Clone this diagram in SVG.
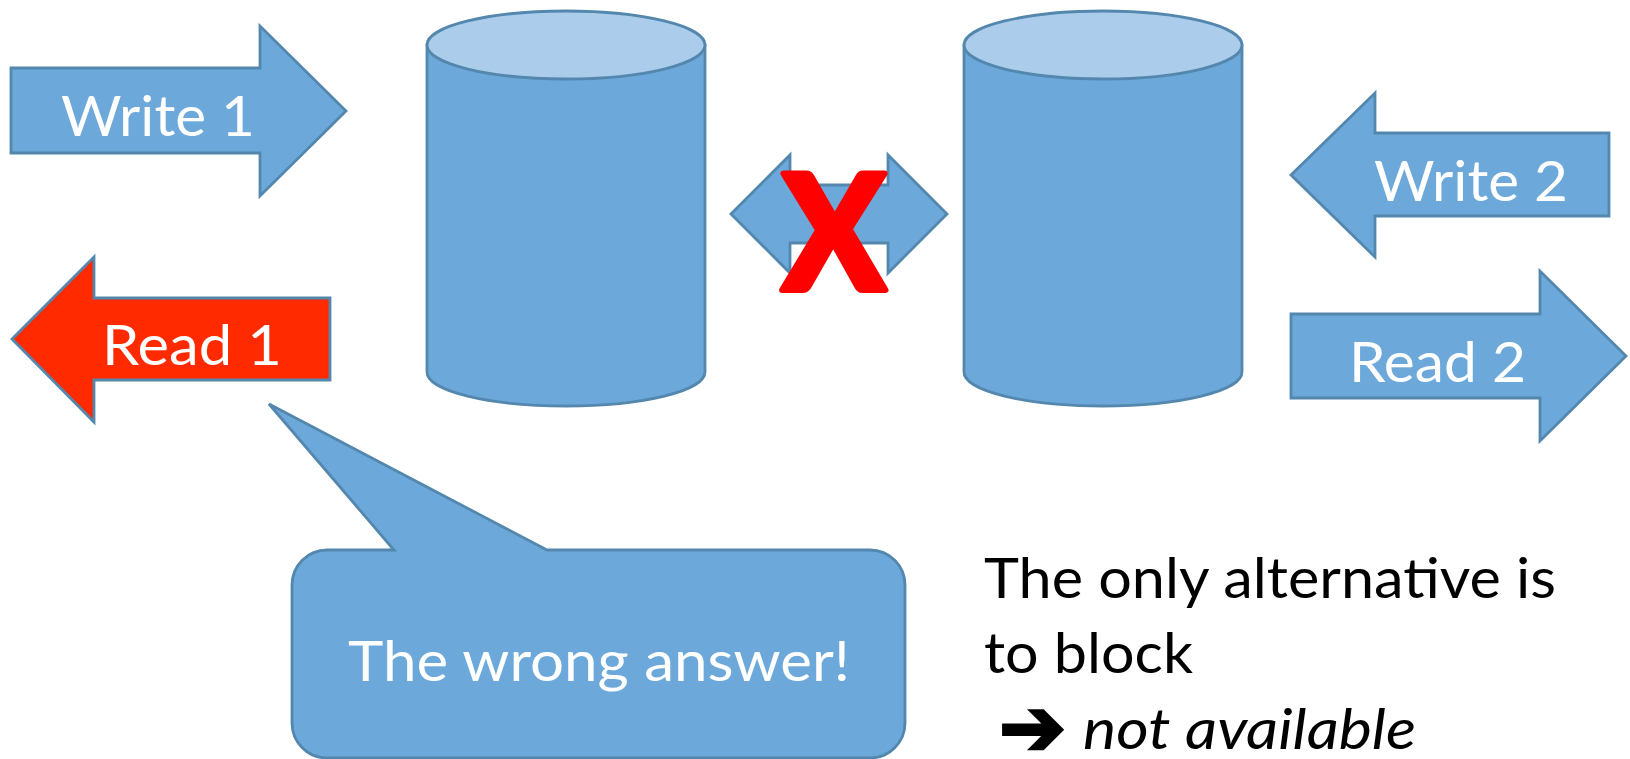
<svg xmlns="http://www.w3.org/2000/svg" width="1630" height="759" viewBox="0 0 1630 759">
<style>
.s{fill:#6CA9DA;stroke:#5487AE;stroke-width:2.8;stroke-linejoin:miter}
.top{fill:#ABCCEA;stroke:#5487AE;stroke-width:2.8}
.red{fill:#FF2A00;stroke:#5487AE;stroke-width:2.8}
text{font-family:"Lato","Liberation Sans",sans-serif;font-size:56px}
.w{fill:#fff}
.k{fill:#000}
</style>
<rect width="1630" height="759" fill="#fff"/>
<g id="write1"><path class="s" d="M11 68H260V26L346 111L260 196V153H11Z"/><text class="w" x="61" y="136" textLength="194" lengthAdjust="spacingAndGlyphs">Write 1</text></g>
<g id="read1"><path class="red" d="M12 339L94 257V298H330V380H94V422Z"/><text class="w" x="102" y="365" textLength="180" lengthAdjust="spacingAndGlyphs">Read 1</text></g>
<g id="db1"><path class="s" d="M427 45V372C427 391 489 406 566 406S705 391 705 372V45Z"/><ellipse class="top" cx="566" cy="45" rx="139" ry="34"/></g>
<g id="db2"><path class="s" d="M964 45V372C964 391 1026 406 1103 406S1242 391 1242 372V45Z"/><ellipse class="top" cx="1103" cy="45" rx="139" ry="34"/></g>
<g id="replication"><path class="s" d="M731 214L790 155V185H888V155L947 214L888 273V243H790V273Z"/><text transform="translate(834 290) scale(.95 1)" text-anchor="middle" style="font-size:160px;font-weight:900;fill:#f00;stroke:#f00;stroke-width:6;stroke-linejoin:round">X</text></g>
<g id="write2"><path class="s" d="M1291 175L1375 93V133H1609V216H1375V257Z"/><text class="w" x="1374" y="201" textLength="194" lengthAdjust="spacingAndGlyphs">Write 2</text></g>
<g id="read2"><path class="s" d="M1291 314H1540V271L1626 356L1540 441V398H1291Z"/><text class="w" x="1349" y="382" textLength="177" lengthAdjust="spacingAndGlyphs">Read 2</text></g>
<g id="callout"><path class="s" d="M327 550H394L269 404L547 550H870A35 35 0 0 1 905 585V723A35 35 0 0 1 870 758H327A35 35 0 0 1 292 723V585A35 35 0 0 1 327 550Z"/><text class="w" x="348" y="681" textLength="502" lengthAdjust="spacingAndGlyphs">The wrong answer!</text></g>
<g id="note">
<text class="k" x="984" y="598" textLength="572" lengthAdjust="spacingAndGlyphs">The only alternative is</text>
<text class="k" x="984" y="673" textLength="209" lengthAdjust="spacingAndGlyphs">to block</text>
<text class="k" x="999" y="755" style="font-family:'DejaVu Sans',sans-serif;font-size:80px;stroke:#000;stroke-width:3">➔</text>
<text class="k" x="1083" y="749" font-style="italic" textLength="333" lengthAdjust="spacingAndGlyphs">not available</text>
</g>
</svg>
